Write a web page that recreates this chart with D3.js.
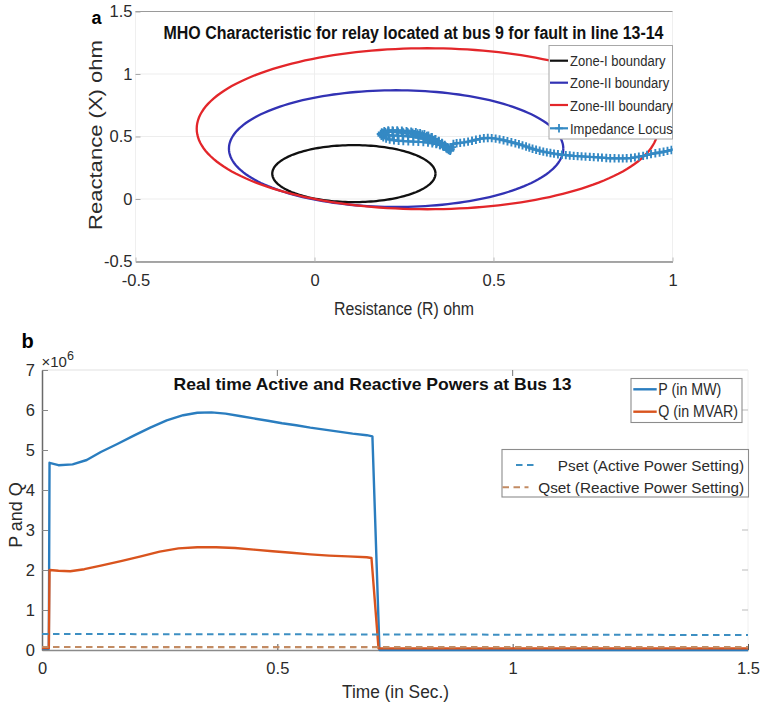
<!DOCTYPE html>
<html>
<head>
<meta charset="utf-8">
<script src="https://cdn.jsdelivr.net/npm/d3@7"></script>
<style>
  html, body { margin: 0; padding: 0; background: #fff; }
  svg { display: block; font-family: "Liberation Sans", Arial, Helvetica, sans-serif; }
</style>
</head>
<body>
<svg id="fig" width="760" height="707"></svg>
<script>
// ---------- Panel (a): MHO relay zones and impedance locus ----------
const zoneNames   = ["Zone-I boundary", "Zone-II boundary", "Zone-III boundary"];
const zoneColors  = ["#111111", "#3232b4", "#e3262a"];
const zoneCenterR = [0.110, 0.228, 0.315];   // circle centre, resistance (ohm)
const zoneCenterX = [0.203, 0.403, 0.562];   // circle centre, reactance (ohm)
const zoneRadius  = [0.228, 0.467, 0.644];   // circle radius (ohm)

// impedance trajectory seen by the relay: from load point towards the fault
const locusR = [1.03,1.02,1.008,0.997,0.986,0.975,0.964,0.952,0.94,0.929,0.918,0.906,0.895,0.884,0.872,0.861,0.85,0.838,0.826,0.815,0.803,0.792,0.78,0.769,0.757,0.746,0.735,0.724,0.713,0.702,0.691,0.68,0.669,0.659,0.649,0.639,0.629,0.619,0.609,0.6,0.591,0.581,0.571,0.561,0.55,0.539,0.528,0.517,0.506,0.495,0.484,0.473,0.462,0.451,0.44,0.429,0.418,0.407,0.397,0.388,
  0.384,0.38,0.372,0.364,0.356,0.347,0.338,0.328,0.318,0.307,0.295,0.283,0.27,0.257,0.244,0.231,0.218,0.206,0.195,0.188,0.185,0.187,0.192,0.2,0.21,0.222,0.235,0.248,0.262,0.276,0.29,0.304,0.317,0.329,0.34,0.35,0.359,0.367,0.374,0.38,
  0.374,0.366,0.357,0.347,0.337,0.326,0.314,0.301,0.288,0.274,0.26,0.246,0.232,0.219,0.207,0.198,0.193,0.197,0.206,0.218,0.232,
  0.246,0.261,0.276,0.291,0.305,0.318,0.33,0.341,0.351,0.36,0.368,0.375,0.379,
  0.371,0.362,0.352,0.342,0.331,0.319,0.306,0.292,0.278,0.263,0.248,0.233,0.219,0.206,0.196,0.19];
const locusX = [0.41,0.405,0.398,0.392,0.385,0.378,0.372,0.366,0.359,0.352,0.345,0.339,0.333,0.328,0.326,0.325,0.325,0.326,0.326,0.328,0.331,0.333,0.335,0.337,0.339,0.341,0.343,0.345,0.348,0.351,0.354,0.358,0.363,0.368,0.373,0.379,0.386,0.394,0.402,0.411,0.42,0.429,0.438,0.446,0.454,0.462,0.47,0.477,0.483,0.487,0.488,0.486,0.481,0.474,0.466,0.459,0.453,0.449,0.446,0.44,
  0.415,0.398,0.415,0.432,0.448,0.464,0.479,0.494,0.507,0.518,0.527,0.534,0.539,0.543,0.546,0.548,0.549,0.548,0.543,0.533,0.52,0.506,0.494,0.484,0.476,0.47,0.466,0.463,0.461,0.459,0.457,0.455,0.451,0.446,0.44,0.432,0.424,0.415,0.406,0.398,
  0.405,0.423,0.442,0.46,0.477,0.492,0.505,0.516,0.524,0.53,0.534,0.537,0.54,0.542,0.541,0.535,0.524,0.514,0.51,0.508,0.507,
  0.505,0.502,0.497,0.49,0.481,0.47,0.458,0.445,0.432,0.419,0.405,0.392,0.385,
  0.4,0.418,0.436,0.455,0.472,0.488,0.501,0.511,0.519,0.525,0.53,0.534,0.537,0.538,0.535,0.527];

const xTicksA = [-0.5, 0, 0.5, 1];
const xTickLabelsA = ["-0.5", "0", "0.5", "1"];
const yTicksA = [-0.5, 0, 0.5, 1, 1.5];
const yTickLabelsA = ["-0.5", "0", "0.5", "1", "1.5"];

// ---------- Panel (b): active / reactive power at bus 13 ----------
const timeP = [0, 0.0145, 0.016, 0.035, 0.065, 0.095, 0.125, 0.16, 0.195, 0.23, 0.265, 0.30, 0.33, 0.36, 0.39, 0.42, 0.45, 0.48, 0.51, 0.54, 0.57, 0.60, 0.63, 0.66, 0.69, 0.702, 0.717, 0.80, 1.0, 1.2, 1.5];
const activeP = [0.03, 0.03, 4.68, 4.62, 4.64, 4.75, 4.95, 5.15, 5.36, 5.56, 5.74, 5.87, 5.93, 5.94, 5.91, 5.85, 5.79, 5.73, 5.67, 5.62, 5.56, 5.51, 5.46, 5.41, 5.37, 5.34, 0.0, 0.0, 0.0, 0.0, 0.0];
const timeQ = [0, 0.0145, 0.016, 0.035, 0.06, 0.09, 0.125, 0.17, 0.21, 0.25, 0.29, 0.33, 0.37, 0.41, 0.45, 0.49, 0.53, 0.57, 0.61, 0.65, 0.69, 0.70, 0.715, 0.80, 1.0, 1.2, 1.5];
const reactiveQ = [0.05, 0.05, 2.0, 1.98, 1.97, 2.02, 2.11, 2.23, 2.34, 2.46, 2.54, 2.57, 2.57, 2.55, 2.51, 2.47, 2.43, 2.39, 2.36, 2.34, 2.32, 2.30, 0.04, 0.04, 0.04, 0.04, 0.04];
const timeSet = [0, 1.5];
const pSet = [0.40, 0.375];
const qSet = [0.075, 0.07];

const xTicksB = [0, 0.5, 1, 1.5];
const xTickLabelsB = ["0", "0.5", "1", "1.5"];
const yTicksB = [0, 1, 2, 3, 4, 5, 6, 7];
const yTickLabelsB = ["0", "1", "2", "3", "4", "5", "6", "7"];

// ---------- helpers ----------
const svg = d3.select("#fig");
const txtColor = "#2b2b2b";

// narrow a text to k times its natural advance width
function squeeze(sel, k) {
  sel.each(function () {
    const w = this.getComputedTextLength();
    this.setAttribute("textLength", w * k);
    this.setAttribute("lengthAdjust", "spacingAndGlyphs");
  });
}
function fitWidth(sel, w) {
  sel.attr("textLength", w).attr("lengthAdjust", "spacingAndGlyphs");
}

// =================== Panel (a) ===================
const xA = d3.scaleLinear().domain([-0.5, 1]).range([135.5, 672.5]);
const yA = d3.scaleLinear().domain([-0.5, 1.5]).range([261.5, 11.5]);

svg.append("defs").append("clipPath").attr("id", "clipA")
  .append("rect").attr("x", xA(-0.5)).attr("y", yA(1.5))
  .attr("width", xA(1) - xA(-0.5)).attr("height", yA(-0.5) - yA(1.5));

const gA = svg.append("g");

// faint grid
gA.selectAll("line.gx").data(xTicksA).join("line")
  .attr("x1", d => xA(d)).attr("x2", d => xA(d))
  .attr("y1", yA(1.5)).attr("y2", yA(-0.5))
  .attr("stroke", "#efefef").attr("stroke-width", 1);
gA.selectAll("line.gy").data(yTicksA).join("line")
  .attr("x1", xA(-0.5)).attr("x2", xA(1))
  .attr("y1", d => yA(d)).attr("y2", d => yA(d))
  .attr("stroke", "#ededed").attr("stroke-width", 1);

// frame: top rule
gA.append("line").attr("x1", xA(-0.5)).attr("x2", xA(1)).attr("y1", yA(1.5)).attr("y2", yA(1.5))
  .attr("stroke", "#9a9a9a").attr("stroke-width", 1.2);

// axes
const axBA = gA.append("g").attr("transform", `translate(0,${yA(-0.5)})`)
  .call(d3.axisBottom(xA).tickValues(xTicksA).tickFormat((d, i) => xTickLabelsA[i])
    .tickSizeInner(-4).tickSizeOuter(0).tickPadding(13));
axBA.select(".domain").attr("stroke", "#8a8a8a").attr("stroke-width", 1.3);
axBA.selectAll(".tick line").attr("stroke", "#bbb");
axBA.selectAll("text").attr("font-size", 16.5).attr("fill", txtColor)
  .attr("font-family", "'Liberation Sans', Arial, sans-serif");

const axLA = gA.append("g").attr("transform", `translate(${xA(-0.5)},0)`)
  .call(d3.axisLeft(yA).tickValues(yTicksA).tickFormat((d, i) => yTickLabelsA[i])
    .tickSizeInner(-5).tickSizeOuter(0).tickPadding(3));
axLA.select(".domain").remove();
axLA.selectAll(".tick line").attr("stroke", "#aaa");
axLA.selectAll("text").attr("font-size", 16.5).attr("fill", txtColor)
  .attr("font-family", "'Liberation Sans', Arial, sans-serif");

// zone circles
const circleLine = d3.line().x(p => xA(p[0])).y(p => yA(p[1]));
const angles = d3.range(0, 361, 2).map(a => a * Math.PI / 180);
const plotA = gA.append("g").attr("clip-path", "url(#clipA)");
zoneNames.forEach((name, i) => {
  const pts = angles.map(a => [zoneCenterR[i] + zoneRadius[i] * Math.cos(a),
                               zoneCenterX[i] + zoneRadius[i] * Math.sin(a)]);
  plotA.append("path").attr("d", circleLine(pts)).attr("fill", "none")
    .attr("stroke", zoneColors[i]).attr("stroke-width", 2.3);
});

// impedance locus
const locusColor = "#3489c4";
const plusMark = "M-4,0H4M0,-4.2V4.2";
const locusPts = locusR.map((r, i) => [r, locusX[i]]);
plotA.append("path").attr("d", circleLine(locusPts)).attr("fill", "none")
  .attr("stroke", locusColor).attr("stroke-width", 2.4).attr("stroke-linejoin", "round");
plotA.selectAll("path.mk").data(locusPts).join("path")
  .attr("class", "mk")
  .attr("transform", p => `translate(${xA(p[0])},${yA(p[1])})`)
  .attr("d", plusMark)
  .attr("stroke", locusColor).attr("stroke-width", 1.9).attr("fill", "none");

// legend (a)
const legA = gA.append("g");
legA.append("rect").attr("x", 549).attr("y", 45.5).attr("width", xA(1) - 549).attr("height", 93.5)
  .attr("fill", "#fff").attr("stroke", "#a8a8a8").attr("stroke-width", 1);
const legRowsA = [60.7, 82.7, 105, 128.3];
const legNamesA = zoneNames.concat(["Impedance Locus"]);
const legColorsA = zoneColors.concat([locusColor]);
legNamesA.forEach((name, i) => {
  legA.append("line").attr("x1", 550).attr("x2", 568).attr("y1", legRowsA[i]).attr("y2", legRowsA[i])
    .attr("stroke", legColorsA[i]).attr("stroke-width", 2.2);
  if (i === 3) {
    legA.append("path").attr("transform", `translate(559,${legRowsA[i]})`)
      .attr("d", plusMark).attr("stroke", locusColor).attr("stroke-width", 1.8);
  }
  legA.append("text").attr("x", 570).attr("y", legRowsA[i] + 5.5)
    .attr("font-size", 15.5).attr("fill", txtColor).text(name)
    .call(squeeze, 0.84);
});

// title, labels
gA.append("text").attr("x", 413.5).attr("y", 38.5).attr("text-anchor", "middle")
  .attr("font-size", 18).attr("font-weight", "bold").attr("fill", "#111")
  .text("MHO Characteristic for relay located at bus 9 for fault in line 13-14")
  .call(fitWidth, 500);
gA.append("text").attr("x", 404).attr("y", 314.5).attr("text-anchor", "middle")
  .attr("font-size", 18).attr("fill", txtColor).text("Resistance (R) ohm")
  .call(fitWidth, 140);
gA.append("text").attr("transform", "translate(101.5,135) rotate(-90)").attr("text-anchor", "middle")
  .attr("font-size", 18).attr("fill", txtColor).text("Reactance (X) ohm")
  .call(fitWidth, 190);
svg.append("text").attr("x", 91.5).attr("y", 23.5).attr("font-size", 18)
  .attr("font-weight", "bold").attr("fill", "#000").text("a");

// =================== Panel (b) ===================
const xB = d3.scaleLinear().domain([0, 1.5]).range([42, 748]);
const yB = d3.scaleLinear().domain([0, 7]).range([650, 370]);
const gB = svg.append("g");

// light top / right frame
gB.append("line").attr("x1", xB(0)).attr("x2", xB(1.5)).attr("y1", yB(7)).attr("y2", yB(7))
  .attr("stroke", "#e2e2e2").attr("stroke-width", 1.2);
gB.append("line").attr("x1", xB(1.5)).attr("x2", xB(1.5)).attr("y1", yB(7)).attr("y2", yB(0))
  .attr("stroke", "#f0f0f0").attr("stroke-width", 1);
// top and right ticks
gB.selectAll("line.tt").data(xTicksB.slice(1, 3)).join("line")
  .attr("x1", d => xB(d)).attr("x2", d => xB(d)).attr("y1", yB(7)).attr("y2", yB(7) + 6)
  .attr("stroke", "#777").attr("stroke-width", 1);
gB.selectAll("line.rt").data(yTicksB.slice(1, 7)).join("line")
  .attr("x1", xB(1.5) - 6).attr("x2", xB(1.5)).attr("y1", d => yB(d)).attr("y2", d => yB(d))
  .attr("stroke", "#bbb").attr("stroke-width", 1);

const axBB = gB.append("g").attr("transform", `translate(0,${yB(0)})`)
  .call(d3.axisBottom(xB).tickValues(xTicksB).tickFormat((d, i) => xTickLabelsB[i])
    .tickSizeInner(-6).tickSizeOuter(0).tickPadding(12.5));
axBB.select(".domain").attr("stroke", "#8a8a8a").attr("stroke-width", 1.3);
axBB.selectAll(".tick line").attr("stroke", "#555");
axBB.selectAll("text").attr("font-size", 16.5).attr("fill", txtColor)
  .attr("font-family", "'Liberation Sans', Arial, sans-serif");

const axLB = gB.append("g").attr("transform", `translate(${xB(0)},0)`)
  .call(d3.axisLeft(yB).tickValues(yTicksB).tickFormat((d, i) => yTickLabelsB[i])
    .tickSizeInner(-6).tickSizeOuter(0).tickPadding(7));
axLB.select(".domain").attr("stroke", "#6a6a6a").attr("stroke-width", 1.5);
axLB.selectAll(".tick line").attr("stroke", "#888");
axLB.selectAll("text").attr("font-size", 16.5).attr("fill", txtColor)
  .attr("font-family", "'Liberation Sans', Arial, sans-serif");

// exponent
const expo = gB.append("text").attr("x", 41.5).attr("y", 367).attr("fill", txtColor).attr("font-size", 15);
expo.append("tspan").text("\u00d710");
expo.append("tspan").attr("dy", -7).attr("font-size", 12.5).text("6");

// series
const pColor = "#2a7dbf", qColor = "#d9541e", psColor = "#3d8fc2", qsColor = "#c28b63";
const lineB = d3.line().x(d => xB(d[0])).y(d => yB(d[1]));
gB.append("path").attr("d", lineB(timeP.map((t, i) => [t, activeP[i]])))
  .attr("fill", "none").attr("stroke", pColor).attr("stroke-width", 2.4).attr("stroke-linejoin", "round");
gB.append("path").attr("d", lineB(timeQ.map((t, i) => [t, reactiveQ[i]])))
  .attr("fill", "none").attr("stroke", qColor).attr("stroke-width", 2.4).attr("stroke-linejoin", "round");
gB.append("path").attr("d", lineB(timeSet.map((t, i) => [t, pSet[i]])))
  .attr("fill", "none").attr("stroke", psColor).attr("stroke-width", 2).attr("stroke-dasharray", "6.5,4.5");
gB.append("path").attr("d", lineB(timeSet.map((t, i) => [t, qSet[i]])))
  .attr("fill", "none").attr("stroke", qsColor).attr("stroke-width", 2.2).attr("stroke-dasharray", "6.5,4.5");

// title and labels
gB.append("text").attr("x", 372.5).attr("y", 389.5).attr("text-anchor", "middle")
  .attr("font-size", 17).attr("font-weight", "bold").attr("fill", "#111")
  .text("Real time Active and Reactive Powers at Bus 13")
  .call(fitWidth, 398);
gB.append("text").attr("x", 395.5).attr("y", 698).attr("text-anchor", "middle")
  .attr("font-size", 18).attr("fill", txtColor).text("Time (in Sec.)")
  .call(fitWidth, 107);
gB.append("text").attr("transform", "translate(21.5,515) rotate(-90)").attr("text-anchor", "middle")
  .attr("font-size", 18).attr("fill", txtColor).text("P and Q");
svg.append("text").attr("x", 21.5).attr("y", 348).attr("font-size", 20)
  .attr("font-weight", "bold").attr("fill", "#000").text("b");

// legend: measured powers
const legB1 = gB.append("g");
legB1.append("rect").attr("x", 631).attr("y", 378.5).attr("width", 111).attr("height", 44)
  .attr("fill", "#fff").attr("stroke", "#8c8c8c").attr("stroke-width", 1.1);
[["P (in MW)", pColor, 389.3], ["Q (in MVAR)", qColor, 411.7]].forEach(r => {
  legB1.append("line").attr("x1", 633.3).attr("x2", 656.7).attr("y1", r[2]).attr("y2", r[2])
    .attr("stroke", r[1]).attr("stroke-width", 2.4);
  legB1.append("text").attr("x", 658.3).attr("y", r[2] + 5.6).attr("font-size", 16)
    .attr("fill", txtColor).text(r[0]).call(squeeze, 0.89);
});

// legend: settings (text right-aligned inside the box)
const legB2 = gB.append("g");
legB2.append("rect").attr("x", 502).attr("y", 449.5).attr("width", 246.5).attr("height", 47.5)
  .attr("fill", "#fff").attr("stroke", "#8c8c8c").attr("stroke-width", 1.1);
[["Pset (Active Power Setting)", psColor, 465, 516, 534],
 ["Qset (Reactive Power Setting)", qsColor, 487.3, 502.5, 528.5]].forEach(r => {
  legB2.append("line").attr("x1", r[3]).attr("x2", r[4]).attr("y1", r[2]).attr("y2", r[2])
    .attr("stroke", r[1]).attr("stroke-width", 2).attr("stroke-dasharray", "6.5,4.5");
  legB2.append("text").attr("x", 744).attr("y", r[2] + 5.5).attr("text-anchor", "end")
    .attr("font-size", 15.3).attr("fill", txtColor).text(r[0]);
});
</script>
</body>
</html>
